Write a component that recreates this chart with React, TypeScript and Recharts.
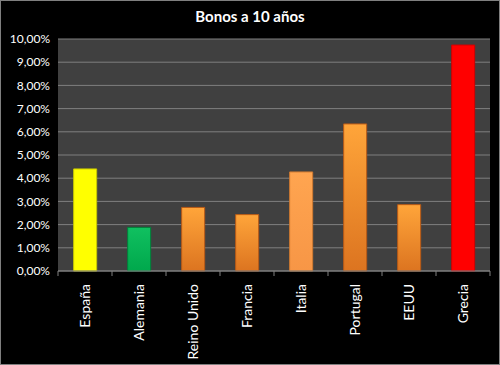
import { BarChart, Bar, XAxis, YAxis, CartesianGrid, Cell } from 'recharts';

const PAISES = ['España', 'Alemania', 'Reino Unido', 'Francia', 'Italia', 'Portugal', 'EEUU', 'Grecia'];
const RENDIMIENTO = [4.4, 1.88, 2.74, 2.43, 4.27, 6.34, 2.86, 9.74];
const Y_TICKS = [0, 1, 2, 3, 4, 5, 6, 7, 8, 9, 10];
const BAR_FILLS = ['#ffff00', 'url(#verde)', 'url(#naranja)', 'url(#naranja)', 'url(#naranjaClaro)', 'url(#naranja)', 'url(#naranja)', '#ff0000'];
const BAR_STROKES = ['#c8c800', '#00803a', '#b85a16', '#b85a16', '#d07a30', '#b85a16', '#b85a16', '#d00000'];

const data = PAISES.map((pais, i) => ({ pais, valor: RENDIMIENTO[i] }));

const fmt = (v: number) => v.toFixed(2).replace('.', ',') + '%';

function CountryTick(props: any) {
  const { x, y, payload, index } = props;
  const half = payload?.offset ?? 27;
  return (
    <g>
      <line x1={x - half} x2={x - half} y1={y - 8} y2={y - 3} stroke="#808080" />
      {index === PAISES.length - 1 && (
        <line x1={x + half} x2={x + half} y1={y - 8} y2={y - 3} stroke="#808080" />
      )}
      <text
        transform={`translate(${x},${y + 5}) rotate(-90)`}
        textAnchor="end"
        dy="0.35em"
        fill="#ffffff"
        fontSize={14}
        fontFamily="Lato"
      >
        {payload.value}
      </text>
    </g>
  );
}

export default function App() {
  return (
    <div
      style={{
        position: 'absolute',
        left: 0,
        top: 0,
        width: 500,
        height: 365,
        background: '#000',
        outline: '1px solid #7f7f7f',
        outlineOffset: -1,
      }}
    >
      <div
        style={{
          position: 'absolute',
          top: 7,
          width: 500,
          textAlign: 'center',
          color: '#fff',
          fontFamily: 'Lato',
          fontWeight: 'bold',
          fontSize: 15,
        }}
      >
        Bonos a 10 años
      </div>
      <BarChart
        width={500}
        height={365}
        data={data}
        margin={{ top: 39, right: 10, bottom: 0, left: 0 }}
        barCategoryGap="29%"
      >
        <defs>
          <linearGradient id="naranja" x1="0" y1="0" x2="0" y2="1">
            <stop offset="0%" stopColor="#ffa53a" />
            <stop offset="100%" stopColor="#dc7420" />
          </linearGradient>
          <linearGradient id="naranjaClaro" x1="0" y1="0" x2="0" y2="1">
            <stop offset="0%" stopColor="#ffa550" />
            <stop offset="100%" stopColor="#f79646" />
          </linearGradient>
          <linearGradient id="verde" x1="0" y1="0" x2="0" y2="1">
            <stop offset="0%" stopColor="#10c060" />
            <stop offset="100%" stopColor="#00a84c" />
          </linearGradient>
        </defs>
        <CartesianGrid vertical={false} stroke="#7f7f7f" fill="#404040" />
        <XAxis
          dataKey="pais"
          interval={0}
          height={94}
          axisLine={{ stroke: '#808080' }}
          tickLine={false}
          tick={<CountryTick />}
        />
        <YAxis
          domain={[0, 10]}
          ticks={Y_TICKS}
          tickFormatter={fmt}
          width={58}
          axisLine={false}
          tickLine={false}
          tick={{ fill: '#fff', fontSize: 12, fontFamily: 'Lato' }}
        />
        <Bar dataKey="valor" isAnimationActive={false}>
          {data.map((_, i) => (
            <Cell key={i} fill={BAR_FILLS[i]} stroke={BAR_STROKES[i]} strokeWidth={1} />
          ))}
        </Bar>
      </BarChart>
    </div>
  );
}
